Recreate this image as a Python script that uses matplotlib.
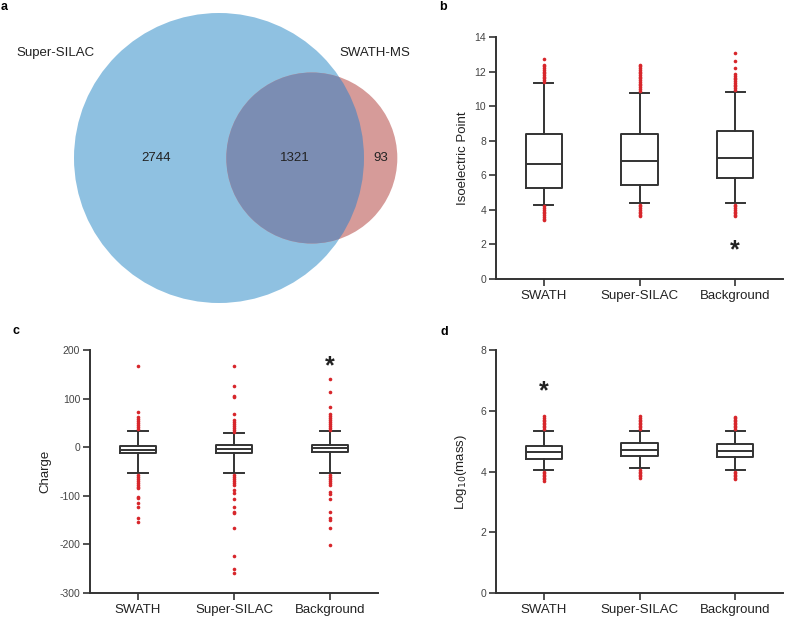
import numpy as np
import matplotlib
matplotlib.use("Agg")
import matplotlib.pyplot as plt
from matplotlib.patches import Circle

plt.rcParams['font.family'] = ['Liberation Sans', 'DejaVu Sans']
plt.rcParams['axes.unicode_minus'] = False

# === Données
groups = ["SWATH", "Super-SILAC", "Background"]

# Venn (a)
only_super = 2744
both = 1321
only_swath = 93
set_names = ["Super-SILAC", "SWATH-MS"]

# Isoelectric point (b) : q1, median, q3, whisker low, whisker high
pi_q1 = [5.26, 5.44, 5.86]
pi_med = [6.65, 6.84, 7.02]
pi_q3 = [8.39, 8.39, 8.56]
pi_lo = [4.28, 4.40, 4.40]
pi_hi = [11.33, 10.76, 10.80]
pi_fliers = [
    [12.72, 12.38, 12.3, 12.2, 12.1, 12.0, 11.9, 11.8, 11.7, 11.6, 11.5, 11.4,
     4.2, 4.1, 4.0, 3.9, 3.8, 3.7, 3.6, 3.5, 3.41],
    [12.38, 12.3, 12.2, 12.1, 12.0, 11.9, 11.8, 11.7, 11.6, 11.5, 11.4, 11.3, 11.2, 11.1, 11.0, 10.9,
     4.3, 4.2, 4.1, 4.0, 3.9, 3.8, 3.7, 3.64],
    [13.07, 12.6, 12.2, 11.85, 11.75, 11.65, 11.55, 11.45, 11.35, 11.25, 11.15, 11.05, 10.95,
     4.3, 4.2, 4.1, 4.0, 3.9, 3.8, 3.7, 3.64],
]
pi_star = 1.8

# Charge (c)
ch_q1 = [-12, -12, -10]
ch_med = [-5, -4, -2]
ch_q3 = [2, 4, 5]
ch_lo = [-53, -53, -53]
ch_hi = [33, 29, 33]
ch_fliers = [
    [167, 72, 62, 58, 54, 50, 46, 42, 38,
     -58, -62, -66, -70, -74, -78, -82, -84, -102, -105, -115, -123, -146, -154],
    [167, 126, 105, 103, 68, 56, 52, 48, 44, 40, 36, 32,
     -58, -62, -66, -70, -74, -78, -88, -94, -107, -123, -133, -136, -166, -224, -251, -259],
    [140, 113, 82, 68, 64, 60, 56, 52, 48, 44, 40, 36,
     -58, -62, -66, -70, -74, -78, -92, -96, -107, -133, -146, -150, -166, -201],
]
ch_star = 170

# Log10(mass) (d)
ms_q1 = [4.41, 4.51, 4.48]
ms_med = [4.64, 4.71, 4.69]
ms_q3 = [4.84, 4.94, 4.92]
ms_lo = [4.05, 4.11, 4.05]
ms_hi = [5.33, 5.33, 5.33]
ms_fliers = [
    [5.83, 5.75, 5.7, 5.65, 5.6, 5.55, 5.5, 5.45, 5.4,
     4.0, 3.95, 3.9, 3.85, 3.8, 3.75, 3.69],
    [5.83, 5.75, 5.7, 5.65, 5.6, 5.55, 5.5, 5.45, 5.4,
     4.05, 4.0, 3.95, 3.9, 3.85, 3.79],
    [5.79, 5.75, 5.7, 5.65, 5.6, 5.55, 5.5, 5.45, 5.4,
     4.0, 3.95, 3.9, 3.85, 3.8, 3.75],
]
ms_star = 6.75

DARK = "#333333"
RED = "#d7262b"
BLUE = "#8fc1e1"
PINK = "#d69b99"
MIX = "#7b8db3"

W, H = 787, 623
fig = plt.figure(figsize=(W / 100, H / 100), dpi=100)


def px_axes(left, top, right, bottom):
    return fig.add_axes([left / W, 1 - bottom / H, (right - left) / W, (bottom - top) / H])


# === a : Venn (rayons proportionnels aux effectifs)
ax_a = px_axes(0, 0, 420, 311.5)
r1 = np.sqrt((only_super + both) / np.pi)
r2 = np.sqrt((only_swath + both) / np.pi)
dist = 0.64 * r1  # écart des centres, comme sur la figure d'origine

s = 145 / r1  # px par unité
ax_a.set_xlim(-219 / s, (420 - 219) / s)
ax_a.set_ylim(-(311.5 - 158) / s, 158 / s)
ax_a.axis("off")

big = Circle((0, 0), r1, facecolor=BLUE, edgecolor="none")
small = Circle((dist, 0), r2, facecolor=PINK, edgecolor="none")
ax_a.add_patch(big)
ax_a.add_patch(small)
overlap = Circle((dist, 0), r2, facecolor=MIX, edgecolor="none")
ax_a.add_patch(overlap)
overlap.set_clip_path(big)

fs = 9.5
txt = "#222222"
ax_a.text((-r1 + dist - r2) / 2 + 1.5, 0, f"{only_super}", ha="center", va="center", fontsize=fs, color=txt)
ax_a.text((dist - r2 + r1) / 2, 0, f"{both}", ha="center", va="center", fontsize=fs, color=txt)
ax_a.text((r1 + dist + r2) / 2, 0, f"{only_swath}", ha="center", va="center", fontsize=fs, color=txt)
ax_a.text(55 / 420, 1 - 53 / 311.5, set_names[0], transform=ax_a.transAxes, ha="center", va="center", fontsize=fs, color=txt)
ax_a.text(375 / 420, 1 - 53 / 311.5, set_names[1], transform=ax_a.transAxes, ha="center", va="center", fontsize=fs, color=txt)


# === boxplots
def box_panel(ax, q1, med, q3, lo_w, hi_w, fliers, ylim, yticks, ylabel, star_x, star_y, lab_x):
    stats = []
    for i in range(len(groups)):
        stats.append(dict(med=med[i], q1=q1[i], q3=q3[i], whislo=lo_w[i], whishi=hi_w[i],
                          fliers=fliers[i], label=groups[i]))
    lw = 1.4
    ax.bxp(stats, positions=range(len(groups)), widths=0.38, capwidths=0.2, showfliers=True,
           boxprops=dict(color=DARK, linewidth=lw),
           medianprops=dict(color=DARK, linewidth=lw),
           whiskerprops=dict(color=DARK, linewidth=lw),
           capprops=dict(color=DARK, linewidth=lw),
           flierprops=dict(marker="o", markerfacecolor=RED, markeredgecolor="none", markersize=2.6))
    ax.set_xlim(-0.5, 2.5)
    ax.set_ylim(*ylim)
    ax.set_yticks(yticks)
    ax.set_xticks(range(len(groups)))
    ax.set_xticklabels(groups, fontsize=9.5, color=txt)
    ax.tick_params(axis="y", labelsize=7.5, labelcolor="#444444", length=5, width=1.2, color=DARK, pad=2)
    ax.tick_params(axis="x", length=5, width=1.2, color=DARK, pad=3)
    for side in ("top", "right"):
        ax.spines[side].set_visible(False)
    for side in ("left", "bottom"):
        ax.spines[side].set_linewidth(1.4)
        ax.spines[side].set_color(DARK)
    ax.set_ylabel(ylabel, fontsize=9.5, color=txt)
    ax.yaxis.set_label_coords(lab_x, 0.5)
    ax.text(star_x, star_y, "*", ha="center", va="center", fontsize=18, fontweight="bold", color=txt)


ax_b = px_axes(496, 37, 783, 279)
box_panel(ax_b, pi_q1, pi_med, pi_q3, pi_lo, pi_hi, pi_fliers, (0, 14), range(0, 15, 2),
          "Isoelectric Point", 2, pi_star - 0.15, -0.095)

ax_c = px_axes(90, 350, 378, 593)
box_panel(ax_c, ch_q1, ch_med, ch_q3, ch_lo, ch_hi, ch_fliers, (-300, 200), range(-300, 201, 100),
          "Charge", 2, ch_star - 4, -0.135)

ax_d = px_axes(496, 350, 783, 593)
box_panel(ax_d, ms_q1, ms_med, ms_q3, ms_lo, ms_hi, ms_fliers, (0, 8), range(0, 9, 2),
          r"Log$_{10}$(mass)", 0, ms_star - 0.1, -0.095)

# lettres des panneaux
for x, y, t in [(4, 7, "a"), (443, 7, "b"), (16, 331, "c"), (444, 332, "d")]:
    fig.text(x / W, 1 - y / H, t, ha="center", va="center", fontsize=9, fontweight="bold")

fig.savefig("out.png", dpi=100)
